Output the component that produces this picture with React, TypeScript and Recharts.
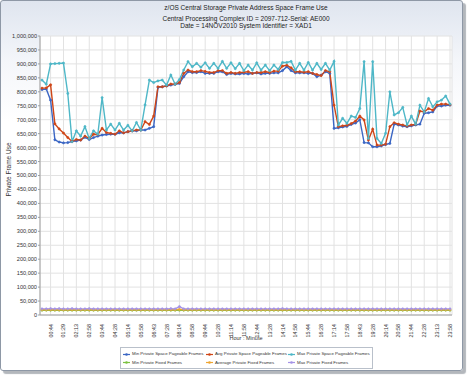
import { LineChart, Line, XAxis, YAxis, CartesianGrid } from 'recharts';

// 15-minute samples, 14NOV2010
const times = [
  '00:14', '00:29', '00:44', '00:59', '01:14', '01:29', '01:44', '01:59',
  '02:13', '02:28', '02:43', '02:58', '03:14', '03:29', '03:44', '03:58',
  '04:13', '04:28', '04:44', '04:59', '05:14', '05:28', '05:43', '05:58',
  '06:13', '06:28', '06:43', '06:58', '07:13', '07:28', '07:43', '07:58',
  '08:14', '08:28', '08:43', '08:58', '09:14', '09:29', '09:44', '09:58',
  '10:13', '10:28', '10:44', '10:59', '11:14', '11:28', '11:43', '11:58',
  '12:14', '12:29', '12:44', '12:58', '13:13', '13:28', '13:44', '13:59',
  '14:14', '14:28', '14:43', '14:58', '15:14', '15:29', '15:44', '15:58',
  '16:13', '16:28', '16:44', '16:59', '17:14', '17:28', '17:43', '17:58',
  '18:13', '18:28', '18:43', '18:58', '19:13', '19:28', '19:44', '19:59',
  '20:14', '20:28', '20:43', '20:58', '21:14', '21:29', '21:44', '21:58',
  '22:13', '22:28', '22:43', '22:58', '23:13', '23:28', '23:43', '23:58',
];

const tickLabels = [
  '00:44', '01:29', '02:13', '02:58', '03:44', '04:28', '05:14', '05:58',
  '06:43', '07:28', '08:14', '08:58', '09:44', '10:28', '11:14', '11:58',
  '12:44', '13:28', '14:14', '14:58', '15:44', '16:28', '17:14', '17:58',
  '18:43', '19:28', '20:14', '20:58', '21:44', '22:28', '23:13', '23:58',
];

const yTicks = [
  0, 50000, 100000, 150000, 200000, 250000, 300000, 350000, 400000, 450000, 500000,
  550000, 600000, 650000, 700000, 750000, 800000, 850000, 900000, 950000, 1000000,
];

// values in thousands of frames
const minPageable = [
  808, 810, 770, 628, 620, 617, 618, 622, 624, 627, 637, 629, 636, 641, 645, 647,
  648, 648, 653, 653, 657, 660, 660, 663, 663, 669, 675, 816, 818, 821, 824, 827,
  830, 854, 872, 869, 869, 872, 866, 866, 866, 872, 872, 862, 866, 864, 864, 866,
  864, 866, 868, 864, 866, 866, 868, 868, 876, 890, 876, 868, 868, 868, 866, 866,
  854, 860, 872, 866, 669, 671, 674, 676, 683, 688, 700, 618, 617, 603, 603, 606,
  611, 615, 684, 681, 677, 675, 678, 681, 684, 723, 725, 728, 749, 749, 752, 752,
];

const avgPageable = [
  813, 814, 825, 685, 667, 652, 636, 622, 629, 627, 641, 633, 648, 647, 669, 654,
  651, 648, 660, 653, 657, 660, 663, 663, 693, 683, 713, 818, 818, 821, 828, 827,
  833, 866, 878, 872, 872, 876, 873, 869, 869, 876, 876, 866, 869, 866, 869, 870,
  872, 866, 869, 869, 872, 869, 874, 874, 892, 895, 886, 872, 872, 870, 872, 866,
  862, 858, 876, 872, 752, 675, 678, 680, 686, 695, 713, 699, 627, 666, 609, 609,
  612, 675, 689, 684, 681, 677, 681, 683, 731, 728, 740, 734, 752, 756, 756, 754,
];

const maxPageable = [
  842, 827, 900, 901, 902, 903, 794, 621, 660, 641, 675, 633, 660, 648, 779, 663,
  684, 663, 687, 663, 680, 660, 690, 663, 753, 842, 833, 839, 842, 824, 860, 827,
  844, 878, 908, 890, 902, 888, 904, 884, 902, 884, 909, 884, 904, 883, 902, 876,
  896, 878, 904, 878, 896, 876, 896, 880, 905, 905, 909, 878, 902, 878, 905, 878,
  902, 880, 902, 878, 909, 681, 705, 687, 713, 708, 740, 908, 633, 908, 633, 615,
  651, 800, 717, 725, 744, 681, 713, 684, 752, 728, 776, 746, 764, 770, 785, 756,
];

const minFixed = [
  17, 17, 17, 17, 17, 17, 17, 17, 17, 17, 17, 17, 17, 17, 17, 17,
  17, 17, 17, 17, 17, 17, 17, 17, 17, 17, 17, 17, 17, 17, 17, 17,
  17, 17, 17, 17, 17, 17, 17, 17, 17, 17, 17, 17, 17, 17, 17, 17,
  17, 17, 17, 17, 17, 17, 17, 17, 17, 17, 17, 17, 17, 17, 17, 17,
  17, 17, 17, 17, 17, 17, 17, 17, 17, 17, 17, 17, 17, 17, 17, 17,
  17, 17, 17, 17, 17, 17, 17, 17, 17, 17, 17, 17, 17, 17, 17, 17,
];

const avgFixed = [
  19, 19, 19, 19, 19, 19, 19, 19, 19, 19, 19, 19, 19, 19, 19, 19,
  19, 19, 19, 19, 19, 19, 19, 19, 19, 19, 19, 19, 19, 19, 19, 19,
  20, 19, 19, 19, 19, 19, 19, 19, 19, 19, 19, 19, 19, 19, 19, 19,
  19, 19, 19, 19, 19, 19, 19, 19, 19, 19, 19, 19, 19, 19, 19, 19,
  19, 19, 19, 19, 19, 19, 19, 19, 19, 19, 19, 19, 19, 19, 19, 19,
  19, 19, 19, 19, 19, 19, 19, 19, 19, 19, 19, 19, 19, 19, 19, 19,
];

const maxFixed = [
  22, 22, 23, 22, 23, 22, 22, 23, 22, 22, 22, 23, 22, 22, 22, 22,
  22, 22, 22, 22, 22, 22, 22, 22, 22, 22, 22, 22, 22, 22, 23, 22,
  30, 22, 22, 22, 22, 22, 22, 22, 22, 22, 22, 22, 22, 22, 22, 22,
  22, 22, 22, 22, 22, 22, 22, 22, 23, 22, 22, 22, 22, 22, 22, 22,
  22, 22, 22, 22, 22, 22, 22, 22, 22, 22, 22, 22, 22, 22, 22, 22,
  22, 22, 22, 22, 22, 22, 22, 22, 22, 22, 22, 22, 22, 22, 22, 22,
];

const series = [
  { key: 'minPageable', name: 'Min Private Space Pageable Frames', color: '#3b66c4', values: minPageable },
  { key: 'avgPageable', name: 'Avg Private Space Pageable Frames', color: '#cf4617', values: avgPageable },
  { key: 'maxPageable', name: 'Max Private Space Pageable Frames', color: '#4eb7c7', values: maxPageable },
  { key: 'minFixed', name: 'Min Private Fixed Frames', color: '#7cc242', values: minFixed },
  { key: 'avgFixed', name: 'Average Private Fixed Frames', color: '#efa632', values: avgFixed },
  { key: 'maxFixed', name: 'Max Private Fixed Frames', color: '#a593e6', values: maxFixed },
];

const rows = times.map((t, i) => {
  const row: Record<string, string | number> = { time: t };
  series.forEach((s) => {
    row[s.key] = s.values[i] * 1000;
  });
  return row;
});

const font = '"Liberation Sans", Arial, sans-serif';

const XTick = (props: any) => {
  const { x, y, payload } = props;
  const ty = y + 1;
  return (
    <text
      x={x}
      y={ty}
      transform={`rotate(-90 ${x} ${ty})`}
      textAnchor="end"
      dominantBaseline="central"
      fontSize={5.4}
      fill="#333"
      fontFamily={font}
    >
      {payload.value}
    </text>
  );
};

export default function App() {
  return (
    <div style={{ position: 'absolute', left: 0, top: 0, width: 468, height: 376, background: '#fff', fontFamily: font }}>
      <div
        style={{
          position: 'absolute', left: 0, top: 0, width: 463, height: 371, boxSizing: 'border-box',
          border: '1px solid #8e98a6', borderRadius: 3,
          background: 'linear-gradient(to bottom, #dfe5ef 0px, #f4f6fa 60px, #ffffff 120px)',
          boxShadow: '3px 3px 1px #b3b7bc',
        }}
      />
      <div style={{ position: 'absolute', left: 40, width: 412, top: 4, textAlign: 'center', fontSize: 6.5, lineHeight: '7px', color: '#222' }}>
        z/OS Central Storage Private Address Space Frame Use
      </div>
      <div style={{ position: 'absolute', left: 40, width: 412, top: 16, textAlign: 'center', fontSize: 6.5, lineHeight: '6.5px', color: '#222' }}>
        <div>Central Processing Complex ID = 2097-712-Serial: AE000</div>
        <div>Date = 14NOV2010 System Identifier = XAD1</div>
      </div>
      <div style={{ position: 'absolute', left: 0, top: 0 }}>
        <LineChart width={468} height={376} data={rows} margin={{ top: 36, right: 16, bottom: 41, left: 10 }}>
          <CartesianGrid stroke="#e2e2e2" fill="#ffffff" />
          <XAxis
            dataKey="time"
            ticks={tickLabels}
            interval={0}
            tick={<XTick />}
            tickLine={false}
            axisLine={{ stroke: '#a0a0a0' }}
            padding={{ left: 2, right: 2 }}
            height={20}
          />
          <YAxis
            domain={[0, 1000000]}
            ticks={yTicks}
            interval={0}
            width={30}
            tickSize={2}
            tickMargin={1}
            tickLine={{ stroke: '#a0a0a0' }}
            axisLine={{ stroke: '#a0a0a0' }}
            tick={{ fontSize: 5.6, fill: '#333', fontFamily: font }}
            tickFormatter={(v: number) => v.toLocaleString('en-US')}
          />
          {series.map((s) => (
            <Line
              key={s.key}
              type="linear"
              dataKey={s.key}
              name={s.name}
              stroke={s.color}
              strokeWidth={1.4}
              dot={{ r: 1.1, fill: s.color, stroke: s.color, strokeWidth: 0.6 }}
              isAnimationActive={false}
            />
          ))}
        </LineChart>
      </div>
      <div
        style={{
          position: 'absolute', left: -22, top: 166, width: 60, textAlign: 'center',
          fontSize: 6.5, color: '#333', transform: 'rotate(-90deg)', whiteSpace: 'nowrap',
        }}
      >
        Private Frame Use
      </div>
      <div style={{ position: 'absolute', left: 40, width: 412, top: 335, textAlign: 'center', fontSize: 5.5, color: '#333' }}>
        Hour : Minute
      </div>
      <div
        style={{
          position: 'absolute', left: 120, top: 347, width: 253, height: 22, boxSizing: 'border-box',
          border: '1px solid #b9c0ca', background: '#fff',
        }}
      >
        {series.map((s, i) => {
          const col = i % 3;
          const row = Math.floor(i / 3);
          const left = [2, 85, 167][col];
          return (
            <div key={s.key} style={{ position: 'absolute', left, top: 3 + row * 8.5, height: 6, display: 'flex', alignItems: 'center', whiteSpace: 'nowrap' }}>
              <svg width={7} height={5} style={{ marginRight: 2 }}>
                <line x1={0} y1={2.5} x2={7} y2={2.5} stroke={s.color} strokeWidth={1.2} />
                <circle cx={3.5} cy={2.5} r={1.3} fill={s.color} />
              </svg>
              <span style={{ fontSize: 4.4, color: '#333', lineHeight: '6px' }}>{s.name}</span>
            </div>
          );
        })}
      </div>
    </div>
  );
}
